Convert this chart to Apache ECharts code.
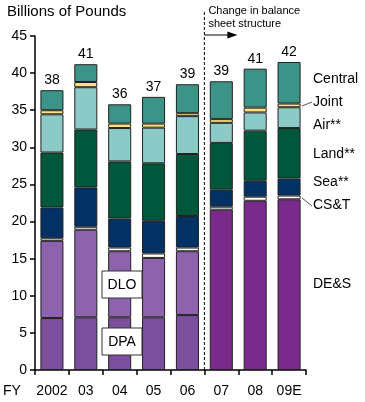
<!DOCTYPE html>
<html><head><meta charset="utf-8">
<script src="https://cdn.jsdelivr.net/npm/echarts@6/dist/echarts.min.js"></script>
<style>html,body{margin:0;padding:0;background:#fff}#c{width:365px;height:402px}</style>
</head><body><div id="c"></div>
<script>
var categories = ['2002','03','04','05','06','07','08','09E'];
var dpa     = [7.0, 7.1, 7.1, 7.1, 7.4, '-', '-', '-'];
var dlo     = [10.4, 11.8, 8.9, 8.0, 8.6, '-', '-', '-'];
var des     = ['-', '-', '-', '-', '-', 21.6, 22.8, 23.0];
var cst     = [0.35, 0.4, 0.5, 0.6, 0.5, 0.4, 0.55, 0.5];
var sea     = [4.15, 5.3, 3.9, 4.4, 4.25, 2.3, 2.15, 2.3];
var land    = [7.4, 7.8, 7.7, 7.75, 8.35, 6.3, 6.75, 6.8];
var air     = [5.15, 5.7, 4.5, 4.8, 5.1, 2.7, 2.45, 2.8];
var joint   = [0.55, 0.7, 0.6, 0.55, 0.4, 0.5, 0.65, 0.5];
var central = [2.7, 2.4, 2.6, 3.6, 3.9, 5.1, 5.25, 5.6];
var totals  = ['38','41','36','37','39','39','41','42'];
var yTicks  = [0, 45, 5];

var font = 'Liberation Sans, Arial, sans-serif';
function s(name, data, color, extra) {
  var o = {
    name: name, type: 'bar', stack: 'all', data: data, barWidth: '68%',
    itemStyle: { color: color, borderColor: '#222', borderWidth: 1 },
    emphasis: { disabled: true }
  };
  if (extra) for (var k in extra) o[k] = extra[k];
  return o;
}
var chart = echarts.init(document.getElementById('c'), null, { renderer: 'canvas' });
var option = {
  animation: false,
  textStyle: { fontFamily: font },
  grid: { left: 35, right: 59, top: 36, bottom: 32, containLabel: false },
  xAxis: {
    type: 'category', data: categories,
    axisLine: { lineStyle: { color: '#000', width: 1.5 } },
    axisTick: { show: true, length: 5, inside: false, lineStyle: { color: '#000', width: 1.5 } },
    axisLabel: { color: '#000', fontSize: 14, margin: 14, interval: 0, fontFamily: font }
  },
  yAxis: {
    type: 'value', min: yTicks[0], max: yTicks[1], interval: yTicks[2],
    axisLine: { show: true, lineStyle: { color: '#000', width: 1.5 } },
    axisTick: { show: true, length: 5, lineStyle: { color: '#000', width: 1.5 } },
    splitLine: { show: false },
    axisLabel: { color: '#000', fontSize: 14, margin: 8, fontFamily: font }
  },
  series: [
    s('DPA', dpa, '#7b4e9e'),
    s('DLO', dlo, '#8c63ac'),
    s('DE&S', des, '#7a2a8b'),
    s('CS&T', cst, '#ffffff'),
    s('Sea', sea, '#023264'),
    s('Land', land, '#00573b'),
    s('Air', air, '#8ccac7'),
    s('Joint', joint, '#ffe27a'),
    s('Central', central, '#3c9488', {
      label: {
        show: true, position: 'top', distance: 3, color: '#000', fontSize: 14, fontFamily: font,
        formatter: function (p) { return totals[p.dataIndex]; }
      }
    })
  ]
};
chart.setOption(option);

var x06 = chart.convertToPixel({ xAxisIndex: 0 }, '06');
var x07 = chart.convertToPixel({ xAxisIndex: 0 }, '07');
var xb = (x06 + x07) / 2;
var y0 = chart.convertToPixel({ yAxisIndex: 0 }, 0);
function label(x, y, t, size) {
  return { type: 'text', z: 100, left: x, top: y, style: { text: t, fill: '#000', fontSize: size || 14, fontFamily: font } };
}
chart.setOption({
  graphic: [
    label(7, 4, 'Billions of Pounds', 15),
    label(3, 384, 'FY', 14),
    { type: 'line', z: 100, shape: { x1: xb, y1: 12, x2: xb, y2: y0 }, style: { stroke: '#000', lineWidth: 1, lineDash: [3, 2] } },
    { type: 'line', z: 100, shape: { x1: xb, y1: 35, x2: xb + 26, y2: 35 }, style: { stroke: '#000', lineWidth: 1 } },
    { type: 'polygon', z: 100, shape: { points: [[xb + 23, 31.5], [xb + 33, 35], [xb + 23, 38.5]] }, style: { fill: '#000' } },
    { type: 'text', z: 100, left: xb + 4, top: 4, style: { text: 'Change in balance\nsheet structure', fill: '#000', fontSize: 11, lineHeight: 13, fontFamily: font } },
    label(313, 72, 'Central'),
    label(313, 95, 'Joint'),
    { type: 'line', z: 100, shape: { x1: 302, y1: 106, x2: 312, y2: 102 }, style: { stroke: '#555', lineWidth: 1 } },
    label(313, 118, 'Air**'),
    label(313, 147, 'Land**'),
    label(313, 175, 'Sea**'),
    label(313, 198, 'CS&T'),
    { type: 'line', z: 100, shape: { x1: 302, y1: 198, x2: 312, y2: 206 }, style: { stroke: '#555', lineWidth: 1 } },
    label(313, 277, 'DE&S'),
    { type: 'rect', z: 100, shape: { x: 102, y: 271, width: 40, height: 27 }, style: { fill: '#fff', stroke: '#333', lineWidth: 1 } },
    { type: 'text', z: 101, x: 122, y: 285, style: { text: 'DLO', fill: '#000', fontSize: 14, fontFamily: font, align: 'center', verticalAlign: 'middle' } },
    { type: 'rect', z: 100, shape: { x: 102, y: 328, width: 40, height: 27 }, style: { fill: '#fff', stroke: '#333', lineWidth: 1 } },
    { type: 'text', z: 101, x: 122, y: 342, style: { text: 'DPA', fill: '#000', fontSize: 14, fontFamily: font, align: 'center', verticalAlign: 'middle' } }
  ]
});
</script>
</body></html>
